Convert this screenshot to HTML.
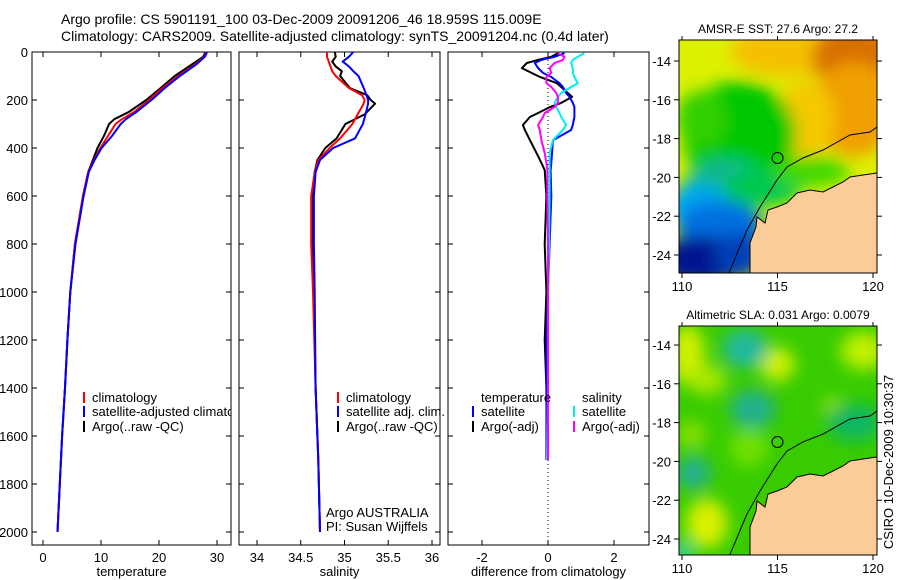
<!DOCTYPE html>
<html><head><meta charset="utf-8">
<style>
html,body{margin:0;padding:0;background:#fff;}
svg{display:block;font-family:"Liberation Sans",sans-serif;}
text{fill:#000;font-size:13px;}
</style></head>
<body>
<svg id="fig" width="900" height="580" viewBox="0 0 900 580" xmlns="http://www.w3.org/2000/svg">
<text x="61" y="24" style="font-size:14px">Argo profile: CS 5901191_100 03-Dec-2009 20091206_46 18.959S 115.009E</text>
<text x="61" y="41" style="font-size:14px">Climatology: CARS2009. Satellite-adjusted climatology: synTS_20091204.nc (0.4d later)</text>
<text transform="translate(893,462) rotate(-90)" text-anchor="middle" style="font-size:13px">CSIRO 10-Dec-2009 10:30:37</text>
<g id="plots"></g>
</svg>
<script>
// ---------- data ----------
const depthTicks = [0,200,400,600,800,1000,1200,1400,1600,1800,2000];
const tempTicks = [0,10,20,30];
const salTicks = [34,34.5,35,35.5,36];
const diffTicks = [-2,0,2];
const tDep = [0,20,50,100,150,200,250,280,300,350,400,450,500,600,800,1000,1200,1400,1600,1800,2000];
const tArgo = [28,27.6,25.8,22.7,20.3,17.8,14.8,12.3,11.4,10.5,9.4,8.6,7.8,6.9,5.5,4.7,4.2,3.8,3.3,2.9,2.5];
const tClim = [28.1,27.8,26.3,23.3,20.6,18.3,15.7,13.6,12.5,11.2,9.9,8.8,7.8,6.9,5.5,4.7,4.2,3.8,3.3,2.9,2.5];
const tSat = [28.3,27.9,26.5,23.6,21.0,18.7,16.1,14.3,13.4,11.9,10.1,8.9,7.9,7.0,5.6,4.7,4.2,3.8,3.3,2.9,2.5];
const sDep = [0,20,40,60,80,100,150,180,200,215,260,300,360,400,450,500,600,800,1000,1400,1700,2000];
const sArgo = [34.89,34.90,34.86,34.90,34.97,34.95,35.06,35.26,35.30,35.35,35.23,35.01,34.91,34.78,34.69,34.66,34.64,34.64,34.65,34.67,34.70,34.72];
const sClim = [34.80,34.80,34.82,34.84,34.86,34.90,35.05,35.20,35.23,35.22,35.15,35.09,34.95,34.83,34.70,34.66,34.62,34.62,34.64,34.67,34.70,34.72];
const sSat = [35.10,35.05,34.98,35.05,35.10,35.16,35.22,35.25,35.27,35.27,35.24,35.21,35.12,34.87,34.72,34.67,34.65,34.65,34.66,34.67,34.70,34.72];
const dDep = [5,20,33,46,67,87,104,130,146,171,187,212,229,254,271,304,325,367,421,462,492,600,800,1000,1200,1400,1700];
const dTArgo = [0.3,0.1,-0.3,-0.64,-0.79,-0.5,-0.24,0.27,0.4,0.6,0.73,0.4,0.06,-0.3,-0.55,-0.76,-0.7,-0.55,-0.35,-0.2,-0.1,-0.05,-0.1,-0.05,-0.1,-0.05,0];
const dTSat = [0.5,0.2,-0.2,-0.4,-0.3,-0.15,0.1,0.35,0.45,0.55,0.65,0.75,0.8,0.8,0.8,0.75,0.7,0.15,0.12,0.1,0.08,0.1,0.05,0,-0.05,-0.05,-0.05];
const dSSat = [1.1,0.9,0.75,0.7,0.75,0.75,0.8,0.9,0.7,0.4,0.3,0.2,0.25,0.35,0.4,0.55,0.45,0.15,0.05,0.05,0.05,0.05,0.03,0,0,0,-0.03];
const dSArgo = [0.3,0.5,0.45,0.2,0.05,0.1,-0.05,-0.05,0.1,0.25,0.3,0.3,0.2,-0.1,-0.15,-0.3,-0.25,-0.2,-0.1,-0.05,-0.02,-0.02,0,0,0,0,0];
const lonTicks = [110,115,120];
const latTicks = [-14,-16,-18,-20,-22,-24];

// ---------- helpers ----------
const NS = "http://www.w3.org/2000/svg";
const root = document.getElementById('plots');
function mk(tag, attrs, parent){
  const e = document.createElementNS(NS, tag);
  for (const k in attrs) e.setAttribute(k, attrs[k]);
  (parent||root).appendChild(e);
  return e;
}
const top0 = 52, bot = 545;
const yD = d => top0 + d*0.24;
const defs = mk('defs',{});

function panel(name, x0, x1, xscale, xt, xlabel, showY){
  const cp = mk('clipPath',{id:name+'-clip'},defs);
  mk('rect',{x:x0,y:top0,width:x1-x0,height:bot-top0},cp);
  const r = mk('rect',{x:x0,y:top0,width:x1-x0,height:bot-top0,fill:'none',stroke:'#000','stroke-width':1});
  
  
  depthTicks.forEach(d=>{
    const y = yD(d);
    mk('line',{x1:x0,y1:y,x2:x0+5,y2:y,stroke:'#000'});
    mk('line',{x1:x1,y1:y,x2:x1-5,y2:y,stroke:'#000'});
    if (showY){
      const t = mk('text',{x:x0-4,y:y+5,'text-anchor':'end'});
      t.textContent = d;
      
      
    }
  });
  xt.forEach(v=>{
    const x = xscale(v);
    mk('line',{x1:x,y1:bot,x2:x,y2:bot-5,stroke:'#000'});
    mk('line',{x1:x,y1:top0,x2:x,y2:top0+5,stroke:'#000'});
    const t = mk('text',{x:x,y:bot+17,'text-anchor':'middle'});
    t.textContent = v;
    
    
  });
  const l = mk('text',{x:(x0+x1)/2,y:bot+31,'text-anchor':'middle'});
  l.textContent = xlabel;
  
  
}
function line(name, xs, deps, xscale, color, w){
  let d = '';
  xs.forEach((v,i)=>{ d += (i?'L':'M') + xscale(v).toFixed(1) + ',' + yD(deps[i]).toFixed(1); });
  const p = mk('path',{d:d,fill:'none',stroke:color,'stroke-width':w||2,'stroke-linejoin':'round'});
  
  
}
function legend(name, x, y, color, label, clip){
  const m = mk('line',{x1:x,y1:y-10,x2:x,y2:y+1,stroke:color,'stroke-width':2});
  
  
  const t = mk('text',{x:x+8,y:y});
  if (clip) t.setAttribute('clip-path','url(#'+clip+')');
  t.textContent = label;
  
  
}

// ---------- panel 1: temperature ----------
const xT = v => 43 + v*5.8;
panel('temperature-panel', 32, 231, xT, tempTicks, 'temperature', true);
line('temp-argo-line', tArgo, tDep, xT, '#000');
line('temp-clim-line', tClim, tDep, xT, '#f00');
line('temp-sat-line', tSat, tDep, xT, '#00f');
legend('legend-climatology', 84, 402, '#f00', 'climatology');
legend('legend-satellite-adjusted', 84, 416, '#00f', 'satellite-adjusted climatology', 'temperature-panel-clip');
legend('legend-argo', 84, 431, '#000', 'Argo(..raw -QC)');

// ---------- panel 2: salinity ----------
const xS = v => 257 + (v-34)*87.5;
panel('salinity-panel', 239, 440, xS, salTicks, 'salinity', false);
line('sal-argo-line', sArgo, sDep, xS, '#000');
line('sal-clim-line', sClim, sDep, xS, '#f00');
line('sal-sat-line', sSat, sDep, xS, '#00f');
legend('legend-sal-climatology', 338, 402, '#f00', 'climatology');
legend('legend-sal-satellite', 338, 416, '#00f', 'satellite adj. clim.');
legend('legend-sal-argo', 338, 431, '#000', 'Argo(..raw -QC)');
const a1 = mk('text',{x:326,y:517}); a1.textContent='Argo AUSTRALIA';
 
const a2 = mk('text',{x:326,y:531}); a2.textContent='PI: Susan Wijffels';
 

// ---------- panel 3: difference ----------
const xDf = v => 548 + v*33;
panel('difference-panel', 448, 649, xDf, diffTicks, 'difference from climatology', false);
const z = mk('line',{x1:xDf(0),y1:top0,x2:xDf(0),y2:bot,stroke:'#000','stroke-dasharray':'1,3'});
 
line('diff-temp-argo-line', dTArgo, dDep, xDf, '#000');
line('diff-temp-sat-line', dTSat, dDep, xDf, '#00f');
line('diff-sal-sat-line', dSSat, dDep, xDf, '#0ee');
line('diff-sal-argo-line', dSArgo, dDep, xDf, '#f0f');
const lt = mk('text',{x:481,y:402}); lt.textContent='temperature';
 
const ls = mk('text',{x:582,y:402}); ls.textContent='salinity';
 
legend('legend-diff-temp-sat', 473, 416, '#00f', 'satellite');
legend('legend-diff-temp-argo', 473, 431, '#000', 'Argo(-adj)');
legend('legend-diff-sal-sat', 574, 416, '#0ee', 'satellite');
legend('legend-diff-sal-argo', 574, 431, '#f0f', 'Argo(-adj)');

// ---------- maps ----------
const f = mk('filter',{id:'blur',x:'-50%',y:'-50%',width:'200%',height:'200%'},defs);
mk('feGaussianBlur',{stdDeviation:'8'},f);
function map(name, y0, y1, latY, title, base, blobs){
  const g = mk('g',{});
  
  
  const cp = mk('clipPath',{id:name+'-clip'},defs);
  mk('rect',{x:679,y:y0,width:198,height:y1-y0},cp);
  const inner = mk('g',{'clip-path':'url(#'+name+'-clip)'},g);
  mk('rect',{x:679,y:y0,width:198,height:y1-y0,fill:base},inner);
  const bg = mk('g',{filter:'url(#blur)'},inner);
  const lx = lon => 682 + (lon-110)*19.1;
  const ly = lat => latY + (-14-lat)*19.4;
  blobs.forEach(b=>{
    mk('ellipse',{cx:lx(b[0]),cy:ly(b[1]),rx:b[2]*19,ry:b[3]*19,fill:b[4]},bg);
  });
  const o = latY - 61;
  const land = [[750,270],[750,243],[756,227],[757,217],[765,223],[768,210],[777,207],[787,203],[797,193],[810,190],[823,192],[833,187],[843,182],[850,177],[863,175],[877,173],[880,173],[880,280],[750,280]];
  const lp = mk('path',{d:'M'+land.map(p=>p[0]+','+(p[1]+o)).join('L')+'Z',fill:'#fccc98',stroke:'#000','stroke-width':1},inner);
   
  const iso = [[728,275],[747,230],[760,207],[777,180],[787,167],[803,158],[823,150],[850,135],[870,132],[877,127]];
  mk('path',{d:'M'+iso.map(p=>p[0]+','+(p[1]+o)).join('L'),fill:'none',stroke:'#000','stroke-width':1},inner);
  const c = mk('circle',{cx:lx(115),cy:ly(-19),r:5.5,fill:'none',stroke:'#000','stroke-width':1},g);
   
  mk('rect',{x:679,y:y0,width:198,height:y1-y0,fill:'none',stroke:'#000'},g);
  latTicks.forEach(v=>{
    const y = ly(v);
    mk('line',{x1:679,y1:y,x2:674,y2:y,stroke:'#000'},g);
    mk('line',{x1:877,y1:y,x2:882,y2:y,stroke:'#000'},g);
    const t = mk('text',{x:671,y:y+5,'text-anchor':'end'},g); t.textContent = v;
     
  });
  lonTicks.forEach(v=>{
    const x = lx(v);
    mk('line',{x1:x,y1:y1,x2:x,y2:y1+5,stroke:'#000'},g);
    mk('line',{x1:x,y1:y0,x2:x,y2:y0-4,stroke:'#000'},g);
    const t = mk('text',{x:x,y:y1+18,'text-anchor':'middle'},g); t.textContent = v;
     
  });
  const tt = mk('text',{x:778,y:y0-7,'text-anchor':'middle',style:'font-size:12px'},g);
  tt.textContent = title;
   
}
map('sst-map', 40, 273, 61, 'AMSR-E SST: 27.6 Argo: 27.2', '#dcf000', [
  [115.5,-13.5,3,1.3,'#f5c000'],[119,-13.8,2.2,1.8,'#d87000'],[119,-16.5,2.2,2.5,'#f0a000'],
  [116.5,-17,1.5,2,'#f5c800'],[113,-17.8,3,2.8,'#00c800'],[111,-17,1.3,1.5,'#30d000'],
  [112.3,-20.5,2.2,1.5,'#10b890'],[114.3,-20.5,2,1,'#00c850'],[110.8,-21.5,1.6,1.2,'#00a8f0'],
  [112,-22.5,2.3,1.3,'#0070e0'],[111,-24.3,2.6,1.3,'#001890'],[113,-24,1.3,1.2,'#0040b8'],
  [116.8,-19.7,2,0.8,'#40d800']
]);
map('sla-map', 326, 555, 345, 'Altimetric SLA: 0.031 Argo: 0.0079', '#38cc00', [
  [110.3,-14.5,0.9,1.6,'#d0f000'],[111.3,-15.8,1,0.8,'#a8e800'],[115,-15,0.9,0.9,'#d0f000'],
  [119.5,-14.3,1.2,1,'#c0f000'],[113.3,-14.2,1.2,1,'#20b8a0'],[113.7,-17.3,1.2,1,'#20b090'],
  [110.6,-20.6,0.9,0.9,'#20b090'],[110.5,-18.6,0.7,0.7,'#90e000'],[113.5,-19.3,1,1,'#70e000'],
  [111.3,-23.2,1.1,1.3,'#d8f000'],[117.9,-17.3,0.5,0.7,'#90e000'],[110,-24.7,0.5,0.5,'#30d0d0'],
  [119,-18,1.5,1,'#10b860']
]);
</script>
</body></html>
